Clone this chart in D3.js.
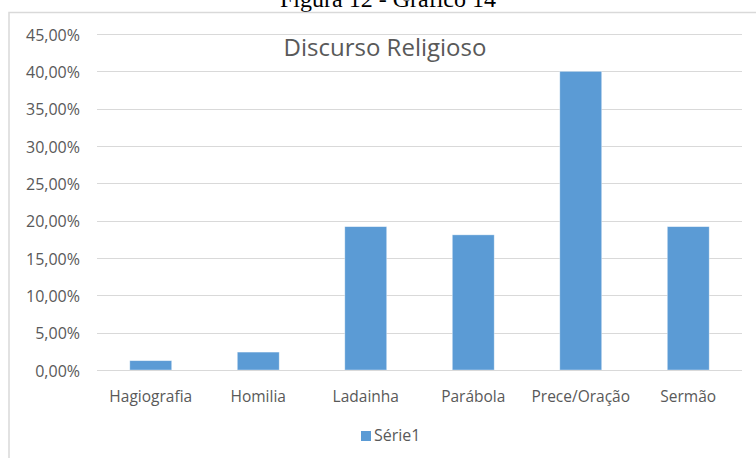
<!DOCTYPE html>
<html>
<head>
<meta charset="utf-8">
<script src="https://cdn.jsdelivr.net/npm/d3@7"></script>
<style>
  html, body { margin: 0; padding: 0; background: #fff; overflow: hidden; }
  svg { display: block; }
</style>
</head>
<body>
<div id="chart"></div>
<script>
(function () {
  var categories = ['Hagiografia', 'Homilia', 'Ladainha', 'Parábola', 'Prece/Oração', 'Sermão'];
  var values = [0.0125, 0.024, 0.192, 0.181, 0.400, 0.192];
  var yTicks = [0, 0.05, 0.10, 0.15, 0.20, 0.25, 0.30, 0.35, 0.40, 0.45];
  var seriesName = 'Série1';

  var width = 756, height = 458;
  var font = '"Open Sans", "Noto Sans", sans-serif';
  var textColor = '#595959';
  var barColor = '#5B9BD5';
  var gridColor = '#D9D9D9';

  var svg = d3.select('#chart').append('svg')
    .attr('width', width)
    .attr('height', height);

  // caption above the chart (cut off at the top in the original)
  svg.append('text')
    .attr('x', 388)
    .attr('y', 6.5)
    .attr('text-anchor', 'middle')
    .attr('font-family', '"Liberation Serif", "Times New Roman", serif')
    .attr('font-size', '24px')
    .attr('fill', '#000')
    .text('Figura 12 - Gráfico 14');

  // chart area border (right and bottom fall outside the picture)
  svg.append('rect')
    .attr('x', 9)
    .attr('y', 12.5)
    .attr('width', 800)
    .attr('height', 500)
    .attr('fill', '#fff')
    .attr('stroke', gridColor)
    .attr('stroke-width', 1.5);

  var x = d3.scaleBand()
    .domain(categories)
    .range([97, 742])
    .paddingInner(0.61)
    .paddingOuter(0.305);

  var y = d3.scaleLinear()
    .domain([0, 0.45])
    .range([370, 34]);

  var pct = function (v) { return d3.format('.2f')(v * 100).replace('.', ',') + '%'; };

  // gridlines
  svg.append('g')
    .selectAll('line')
    .data(yTicks)
    .enter().append('line')
    .attr('x1', 97)
    .attr('x2', 742)
    .attr('y1', function (d) { return Math.round(y(d)) + 0.5; })
    .attr('y2', function (d) { return Math.round(y(d)) + 0.5; })
    .attr('stroke', gridColor)
    .attr('stroke-width', 1);

  // y axis labels
  svg.append('g')
    .selectAll('text')
    .data(yTicks)
    .enter().append('text')
    .attr('x', 80)
    .attr('y', function (d) { return y(d) + 6.5; })
    .attr('text-anchor', 'end')
    .attr('font-family', font)
    .attr('font-size', '16px')
    .attr('fill', textColor)
    .text(pct);

  // bars
  svg.append('g')
    .selectAll('rect')
    .data(values)
    .enter().append('rect')
    .attr('x', function (d, i) { return x(categories[i]); })
    .attr('y', function (d) { return y(d); })
    .attr('width', x.bandwidth())
    .attr('height', function (d) { return y(0) - y(d); })
    .attr('fill', barColor)
    .attr('stroke', '#fff')
    .attr('stroke-opacity', 0.5)
    .attr('stroke-width', 0.75);

  // baseline
  svg.append('line')
    .attr('x1', 97).attr('x2', 742)
    .attr('y1', 370.5).attr('y2', 370.5)
    .attr('stroke', gridColor);

  // category labels
  svg.append('g')
    .selectAll('text')
    .data(categories)
    .enter().append('text')
    .attr('x', function (d) { return x(d) + x.bandwidth() / 2; })
    .attr('y', 401.5)
    .attr('text-anchor', 'middle')
    .attr('font-family', font)
    .attr('font-size', '15.5px')
    .attr('fill', textColor)
    .text(function (d) { return d; });

  // title
  svg.append('text')
    .attr('x', 385)
    .attr('y', 56)
    .attr('text-anchor', 'middle')
    .attr('font-family', font)
    .attr('font-size', '24px')
    .attr('fill', textColor)
    .text('Discurso Religioso');

  // legend
  var legend = svg.append('g').attr('transform', 'translate(361,431)');
  legend.append('rect')
    .attr('width', 10)
    .attr('height', 10)
    .attr('fill', barColor);
  legend.append('text')
    .attr('x', 13)
    .attr('y', 9.5)
    .attr('font-family', font)
    .attr('font-size', '16px')
    .attr('fill', textColor)
    .text(seriesName);
})();
</script>
</body>
</html>
